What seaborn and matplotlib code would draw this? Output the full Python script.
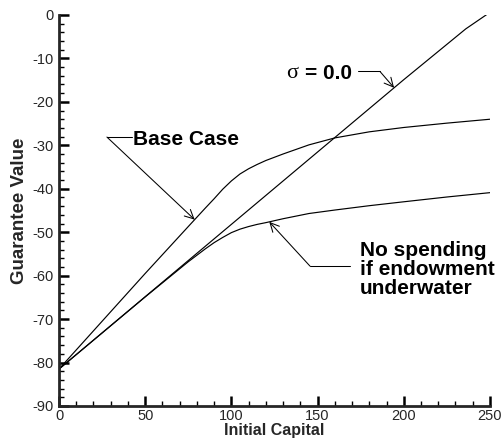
import numpy as np
import pandas as pd
import matplotlib
matplotlib.use("Agg")
import matplotlib.pyplot as plt
from matplotlib.ticker import MultipleLocator
import seaborn as sns

# Initial capital grid and guarantee values for the two spending rules
capital = [0, 25, 50, 75, 85, 90, 95, 100, 105, 110, 115, 120, 130, 145, 160, 180, 200, 225, 250]
base_case = [-81.5, -70.5, -59.5, -48.7, -44.4, -42.3, -40.1, -38.2, -36.6, -35.4, -34.4, -33.5,
             -32.0, -29.9, -28.3, -26.9, -25.9, -24.9, -24.0]
no_spending = [-81.5, -73.2, -64.9, -56.8, -53.8, -52.4, -51.2, -50.1, -49.3, -48.7, -48.2, -47.8,
               -46.9, -45.7, -44.9, -43.9, -43.0, -41.9, -40.9]

# Zero-volatility case
sigma0_capital = [0, 100, 200, 236, 250]
sigma0_value = [-81.5, -48.2, -14.9, -3.2, 0.6]

x_ticks = [0, 50, 100, 150, 200, 250]
y_ticks = [-90, -80, -70, -60, -50, -40, -30, -20, -10, 0]

sns.set_style("ticks")
plt.rcParams["font.family"] = ["Liberation Sans", "DejaVu Sans"]
plt.rcParams["axes.unicode_minus"] = False

fig = plt.figure(figsize=(5.03, 4.40), dpi=100)
ax = fig.add_axes([0.1173, 0.0773, 0.8567, 0.8887])

df = pd.DataFrame({"capital": capital, "base": base_case, "nospend": no_spending})
df_sig = pd.DataFrame({"capital": sigma0_capital, "value": sigma0_value})

line_kw = dict(color="black", linewidth=0.85, ax=ax, legend=False)
sns.lineplot(data=df, x="capital", y="base", **line_kw)
sns.lineplot(data=df, x="capital", y="nospend", **line_kw)
sns.lineplot(data=df_sig, x="capital", y="value", **line_kw)

ax.set_xlim(0, 250)
ax.set_ylim(-90, 0)
ax.set_xticks(x_ticks)
ax.set_yticks(y_ticks)
ax.set_xticklabels([str(v) for v in x_ticks])
ax.set_yticklabels([str(v) for v in y_ticks])
ax.xaxis.set_minor_locator(MultipleLocator(10))
ax.yaxis.set_minor_locator(MultipleLocator(2))

for side in ("top", "right"):
    ax.spines[side].set_visible(False)
for side in ("left", "bottom"):
    ax.spines[side].set_linewidth(2.0)

ax.tick_params(which="major", direction="in", length=7, width=1.8, labelsize=10.5,
               color="black")
ax.tick_params(axis="y", which="major", pad=4)
ax.tick_params(axis="x", which="major", pad=2.5, labelsize=10.5)
ax.tick_params(which="minor", direction="in", length=3.8, width=1.0, color="black")

ax.set_xlabel("Initial Capital", fontsize=11.5, fontweight="bold", labelpad=0)
ax.set_ylabel("Guarantee Value", fontsize=13.5, fontweight="bold", labelpad=3)

arrow_kw = dict(arrowstyle="->", color="black", lw=0.75, mutation_scale=16, shrinkA=0, shrinkB=0)
label_kw = dict(fontsize=15, fontweight="bold", color="black")

# Base Case callout
bc_tip = 78.7
bc_tip_y = float(np.interp(bc_tip, capital, base_case))
ax.text(42.9, -28.6, "Base Case", ha="left", va="center", **label_kw)
ax.plot([27.8, 42.2], [-28.1, -28.1], color="black", lw=0.75, clip_on=False)
ax.annotate("", xy=(bc_tip, bc_tip_y), xytext=(27.8, -28.1), arrowprops=arrow_kw)

# sigma = 0.0 callout
sg_tip = 194.4
sg_tip_y = float(np.interp(sg_tip, sigma0_capital, sigma0_value))
t_eq = ax.text(169.9, -13.4, "= 0.0", ha="right", va="center", **label_kw)
ax.annotate("\u03c3 ", xy=(0, 0.5), xycoords=t_eq, ha="right", va="center",
            fontsize=16, family="Liberation Serif", color="black")
ax.plot([173.4, 186.2], [-13.0, -13.0], color="black", lw=0.75)
ax.annotate("", xy=(sg_tip, sg_tip_y), xytext=(186.2, -13.0), arrowprops=arrow_kw)

# No spending callout
ns_tip = 122.0
ns_tip_y = float(np.interp(ns_tip, capital, no_spending))
ax.text(174.6, -58.5, "No spending\nif endowment\nunderwater", ha="left", va="center",
        linespacing=1.0, **label_kw)
ax.plot([145.6, 168.8], [-57.8, -57.8], color="black", lw=0.75)
ax.annotate("", xy=(ns_tip, ns_tip_y), xytext=(145.6, -57.8), arrowprops=arrow_kw)

fig.savefig("out.png", dpi=100)
